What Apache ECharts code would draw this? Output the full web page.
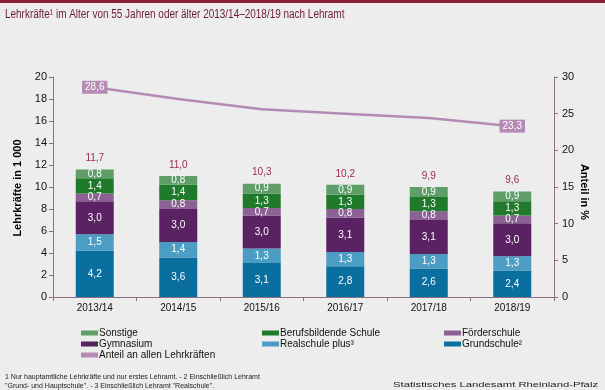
<!DOCTYPE html>
<html><head><meta charset="utf-8">
<script src="https://cdn.jsdelivr.net/npm/echarts@6/dist/echarts.min.js"></script>
<style>html,body{margin:0;padding:0;background:#ededed;}#c{width:605px;height:390px;}</style>
</head><body><div id="c"></div>
<script>
const categories = ['2013/14','2014/15','2015/16','2016/17','2017/18','2018/19'];
const grundschule = [4.2,3.6,3.1,2.8,2.6,2.4];
const realschule = [1.5,1.4,1.3,1.3,1.3,1.3];
const gymnasium = [3.0,3.0,3.0,3.1,3.1,3.0];
const foerderschule = [0.7,0.8,0.7,0.8,0.8,0.7];
const berufsbildend = [1.4,1.4,1.3,1.3,1.3,1.3];
const sonstige = [0.8,0.8,0.9,0.9,0.9,0.9];
const totals = [11.7,11.0,10.3,10.2,9.9,9.6];
const anteil = [28.6,27.0,25.6,25.0,24.4,23.3];
const leftTicks = [0,2,4,6,8,10,12,14,16,18,20];
const rightTicks = [0,5,10,15,20,25,30];

const fmt = v => v.toFixed(1).replace('.', ',');
const font = 'Liberation Sans, Arial, sans-serif';
const inLabel = {show:true, position:'inside', color:'#fff', fontSize:10, fontFamily:font,
  formatter:p=>fmt(p.value)};
function barSeries(name, data, color, extra){
  return Object.assign({name, type:'bar', stack:'a', data, barWidth:38,
    itemStyle:{color}, label:inLabel, emphasis:{disabled:true}}, extra||{});
}
const chart = echarts.init(document.getElementById('c'));
const axisCol = '#8a7080';
const legendBase = {orient:'vertical', top:323, itemWidth:17, itemHeight:5, itemGap:1,
  textStyle:{fontSize:10, color:'#111', padding:[0,0,0,-4]}, icon:'rect'};
chart.setOption({
  backgroundColor:'#ededed',
  animation:false,
  textStyle:{fontFamily:font},
  graphic:[
    {type:'rect', shape:{x:0,y:0,width:605,height:3}, style:{fill:'#8b1d3b'}},
    {type:'text', x:5, y:9, scaleX:0.83, style:{text:'Lehrkräfte¹ im Alter von 55 Jahren oder älter 2013/14–2018/19 nach Lehramt',
      fill:'#6a1b3c', font:'12px '+font}},
    {type:'text', x:5, y:373, style:{text:'1 Nur hauptamtliche Lehrkräfte und nur erstes Lehramt. - 2 Einschließlich Lehramt\n"Grund- und Hauptschule". - 3 Einschließlich Lehramt "Realschule".',
      fill:'#222', font:'7px '+font, lineHeight:9}},
    {type:'text', x:393, y:381, scaleX:1.41, style:{text:'Statistisches Landesamt Rheinland-Pfalz', fill:'#222', font:'8px '+font}},
    {type:'text', x:18, y:188, rotation:Math.PI/2, style:{text:'Lehrkräfte in 1 000', fill:'#000',
      font:'bold 11px '+font, align:'center', verticalAlign:'middle'}},
    {type:'text', x:584, y:192, rotation:-Math.PI/2, style:{text:'Anteil in %', fill:'#000',
      font:'bold 11px '+font, align:'center', verticalAlign:'middle'}}
  ],
  grid:{left:53, right:51, top:77, bottom:93},
  xAxis:{type:'category', data:categories,
    axisLine:{lineStyle:{color:axisCol}}, axisTick:{show:true, length:4, lineStyle:{color:axisCol}},
    axisLabel:{color:'#111', fontSize:10, margin:6}},
  yAxis:[
    {type:'value', min:0, max:20, interval:2, position:'left',
     axisLine:{show:true, lineStyle:{color:axisCol}}, axisTick:{show:true, length:4, lineStyle:{color:axisCol}},
     splitLine:{show:false}, axisLabel:{color:'#111', fontSize:11, margin:6,
       formatter:v=>leftTicks.includes(v)?String(v):''}},
    {type:'value', min:0, max:30, interval:5, position:'right',
     axisLine:{show:true, lineStyle:{color:axisCol}}, axisTick:{show:true, length:4, inside:false, lineStyle:{color:axisCol}},
     splitLine:{show:false}, axisLabel:{color:'#111', fontSize:11, margin:8,
       formatter:v=>rightTicks.includes(v)?String(v):''}}
  ],
  legend:[
    Object.assign({left:76, data:['Sonstige','Gymnasium','Anteil an allen Lehrkräften']}, legendBase),
    Object.assign({left:257, data:['Berufsbildende Schule','Realschule plus³']}, legendBase),
    Object.assign({left:439, data:['Förderschule','Grundschule²']}, legendBase)
  ],
  series:[
    barSeries('Grundschule²', grundschule, '#0a6e9e'),
    barSeries('Realschule plus³', realschule, '#4c9dc3'),
    barSeries('Gymnasium', gymnasium, '#5a2263'),
    barSeries('Förderschule', foerderschule, '#8c6294'),
    barSeries('Berufsbildende Schule', berufsbildend, '#1f7a2b'),
    barSeries('Sonstige', sonstige, '#5f9e68'),
    {name:'Summe', type:'bar', stack:'a', data:sonstige.map(()=>0), barWidth:38,
     itemStyle:{color:'transparent'}, legendHoverLink:false,
     label:{show:true, position:'top', distance:6, color:'#9b2a4a', fontSize:10,
       formatter:p=>fmt(totals[p.dataIndex])}},
    {name:'Anteil an allen Lehrkräften', type:'line', yAxisIndex:1, symbol:'circle', symbolSize:1,
     showSymbol:true, z:3,
     lineStyle:{color:'#b48bb5', width:2.5}, itemStyle:{color:'#b48bb5'},
     data:anteil.map((v,i)=>({value:v, label:{show:i===0||i===anteil.length-1}})),
     label:{position:'inside', color:'#fff', backgroundColor:'#b48bb5',
       padding:[2,3,1,3], fontSize:10, formatter:p=>fmt(p.value)}}
  ]
});
</script></body></html>
